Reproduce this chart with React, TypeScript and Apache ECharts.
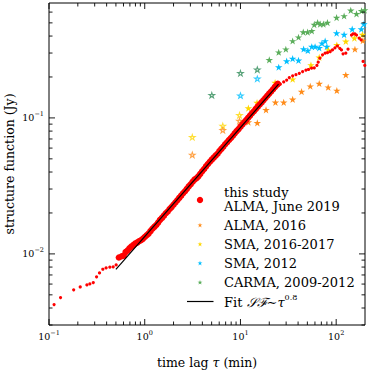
import React, { useEffect, useRef } from "react";
import * as echarts from "echarts";

// ---- this study (ALMA, June 2019): dense, large markers ----
const studyDenseTau = [0.537,0.575,0.603,0.631,0.661,0.692,0.724,0.759,0.794,0.832,0.871,0.912,0.955,
  1.0,1.047,1.096,1.148,1.202,1.259,1.318,1.380,1.445,1.514,1.585,1.660,1.738,1.820,1.905,1.995,
  2.089,2.188,2.291,2.399,2.512,2.630,2.754,2.884,3.020,3.162,3.311,3.467,3.631,3.802,3.981,4.169,4.365,4.571,4.786,5.012,5.248,5.495,5.754,6.026,6.310,6.607,6.918,7.244,7.586,7.943,8.318,8.710,9.120,9.550,
  10.0,10.47,10.96,11.48,12.02,12.59,13.18,13.80,14.45,15.14,15.85,16.60,17.38,18.20,19.05,19.95,20.89,21.88,22.91,23.99,24.55];
const studyDenseSF = [0.0094,0.0096,0.0097,0.0103,0.0106,0.0110,0.0113,0.0116,0.0119,0.0121,0.0124,0.0126,0.0129,
  0.0133,0.0137,0.0141,0.0147,0.0153,0.0158,0.0163,0.0170,0.0178,0.0184,0.0191,0.0199,0.0205,0.0214,0.0221,0.0230,
  0.0239,0.0248,0.0258,0.0268,0.0279,0.0289,0.0301,0.0314,0.0325,0.0339,0.0352,0.0360,0.0372,0.0388,0.0405,0.0421,0.0440,0.0458,0.0476,0.0493,0.0510,0.0528,0.0545,0.0570,0.0592,0.0614,0.0640,0.0662,0.0688,0.0712,0.0740,0.0770,0.0800,0.0828,
  0.0862,0.0895,0.0930,0.0965,0.1002,0.1040,0.1082,0.1120,0.1165,0.1210,0.1255,0.1300,0.1350,0.1400,0.1455,0.1510,0.1565,0.1625,0.1690,0.1750,0.1780];

// ---- this study: sparse, small markers ----
const studySparseTau = [0.113,0.132,0.181,0.212,0.249,0.267,0.290,0.314,0.337,0.365,0.395,0.432,0.468,0.503,
  26.1,28.3,30.4,32.4,35.1,38.0,41.2,44.6,48.3,51.4,55.3,59.0,62.9,64.9,67.6,72.0,76.7,81.1,86.6,91.5,97,103,109,113.5,118,126,133,144.5,150,157,163,174,182,191,199];
const studySparseSF = [0.00424,0.00477,0.00544,0.00571,0.00591,0.00601,0.00615,0.00678,0.00724,0.00771,0.00789,0.00798,0.00802,0.0083,
  0.177,0.184,0.190,0.198,0.204,0.208,0.213,0.219,0.225,0.227,0.232,0.233,0.243,0.257,0.275,0.291,0.299,0.302,0.307,0.316,0.327,0.338,0.325,0.316,0.296,0.299,0.32,0.407,0.415,0.415,0.407,0.386,0.375,0.26,0.243];

// ---- fit SF ~ tau^0.8 (end points) ----
const fitTau = [0.5, 25];
const fitSF = [0.0077, 0.177];

// ---- ALMA, 2016 ----
const alma16OpenTau = [3.14, 6.54, 9.77];
const alma16OpenSF = [0.0535, 0.0813, 0.095];
const alma16Tau = [12.1, 15.0, 18.5, 23.2, 28.3, 35.1, 43.5, 53.6, 66.5, 82.5, 101.6, 126, 157, 190];
const alma16SF = [0.093, 0.092, 0.1145, 0.130, 0.130, 0.137, 0.156, 0.171, 0.179, 0.168, 0.159, 0.207, 0.32, 0.37];

// ---- SMA, 2016-2017 ----
const sma16OpenTau = [3.14, 6.54, 9.77];
const sma16OpenSF = [0.0721, 0.0873, 0.1047];
const sma16Tau = [12.1, 14.9, 23.0, 35.1, 54.5, 66.5, 83, 101.6, 126, 155, 188];
const sma16SF = [0.118, 0.1296, 0.182, 0.1925, 0.245, 0.279, 0.316, 0.344, 0.365, 0.386, 0.41];

// ---- SMA, 2012 ----
const sma12OpenTau = [10.0, 15.0];
const sma12OpenSF = [0.146, 0.194];
const sma12Tau = [25.1, 30.4, 35.1, 40.4, 45.7, 50.6, 55.6, 60.2, 66.5, 71, 76.7, 80, 101, 121, 147, 183, 195];
const sma12SF = [0.236, 0.262, 0.273, 0.265, 0.321, 0.313, 0.334, 0.334, 0.327, 0.354, 0.368, 0.334, 0.42, 0.41, 0.45, 0.45, 0.49];

// ---- CARMA, 2009-2012 ----
const carmaOpenTau = [5.02, 10.0, 15.0];
const carmaOpenSF = [0.147, 0.2133, 0.2265];
const carmaTau = [20, 25.1, 29.8, 35.1, 40.4, 45.3, 50.3, 55.6, 59, 64, 68, 73.5, 81, 101, 121, 142, 163, 184, 198];
const carmaSF = [0.267, 0.304, 0.32, 0.368, 0.392, 0.427, 0.427, 0.436, 0.485, 0.502, 0.49, 0.49, 0.502, 0.546, 0.562, 0.618, 0.582, 0.612, 0.62];

// ---- axes ----
const X_MIN = 0.1, X_MAX = 200, Y_MIN = 0.003, Y_MAX = 0.7;
const xMajorTicks = [0.1, 1, 10, 100];
const xTickExp = ["−1", "0", "1", "2"];
const yMajorTicks = [0.01, 0.1];
const yTickExp = ["−2", "−1"];

const legendLabels = ["this study", "ALMA, June 2019", "ALMA, 2016", "SMA, 2016-2017", "SMA, 2012", "CARMA, 2009-2012"];

const RED = "#ff0000";
const ORANGE = "#ff8c1a";
const YELLOW = "#ffd700";
const BLUE = "#00bfff";
const GREEN = "#5aad5a";
const FONT = "'DejaVu Serif', serif";

const STAR_PTS = [[0,-1],[0.2245,-0.309],[0.951,-0.309],[0.363,0.118],[0.588,0.809],[0,0.382],[-0.588,0.809],[-0.363,0.118],[-0.951,-0.309],[-0.2245,-0.309]];
const STAR = "path://M" + STAR_PTS.map((p) => p[0] + "," + p[1]).join("L") + "Z";

export default function App() {
  const ref = useRef<HTMLDivElement>(null);
  useEffect(() => {
    const el = ref.current!;
    const chart = echarts.init(el, null, { renderer: "svg" });
    const zip = (a: number[], b: number[]) => a.map((v, i) => [v, b[i]]);
    const sc = (name: string, tau: number[], sf: number[], symbol: string, size: number, color: string, hollow: boolean, z: number) => ({
      type: "scatter", name, data: zip(tau, sf), symbol, symbolSize: size, symbolKeepAspect: true, z, silent: true,
      itemStyle: hollow ? { color: "rgba(255,255,255,0)", borderColor: color, borderWidth: 1.1 } : { color, borderWidth: 0, opacity: 1 },
    });
    const hiddenAxis = { axisLine: { show: false }, axisTick: { show: false }, axisLabel: { show: false }, splitLine: { show: false } };
    chart.setOption({
      animation: false,
      grid: { left: 49, top: 3, right: 9, bottom: 49, show: true, borderColor: "#000", borderWidth: 1, containLabel: false, outerBoundsMode: "none" },
      xAxis: { type: "log", logBase: 10, min: X_MIN, max: X_MAX, ...hiddenAxis },
      yAxis: { type: "log", logBase: 10, min: Y_MIN, max: Y_MAX, ...hiddenAxis },
      series: [
        sc("CARMA, 2009-2012 (open)", carmaOpenTau, carmaOpenSF, STAR, 5.5, "#2e8b57", true, 2),
        sc("CARMA, 2009-2012", carmaTau, carmaSF, STAR, 7.5, GREEN, false, 2),
        sc("SMA, 2012 (open)", sma12OpenTau, sma12OpenSF, STAR, 5.5, BLUE, true, 3),
        sc("SMA, 2012", sma12Tau, sma12SF, STAR, 7.5, BLUE, false, 3),
        sc("SMA, 2016-2017 (open)", sma16OpenTau, sma16OpenSF, STAR, 5.5, YELLOW, true, 4),
        sc("SMA, 2016-2017", sma16Tau, sma16SF, STAR, 7.5, YELLOW, false, 4),
        sc("ALMA, 2016 (open)", alma16OpenTau, alma16OpenSF, STAR, 5.5, ORANGE, true, 5),
        sc("ALMA, 2016", alma16Tau, alma16SF, STAR, 7.5, ORANGE, false, 5),
        sc("this study (sparse)", studySparseTau, studySparseSF, "circle", 3.2, RED, false, 6),
        sc("this study", studyDenseTau, studyDenseSF, "circle", 6.5, RED, false, 6),
        { type: "line", name: "Fit", data: zip(fitTau, fitSF), symbol: "none", z: 8, silent: true,
          lineStyle: { color: "#000", width: 1.2 } },
      ],
    });

    const p = (x: number, y: number) => chart.convertToPixel({ gridIndex: 0 }, [x, y]) as number[];
    const [L, B] = p(X_MIN, Y_MIN);
    const [R, T] = p(X_MAX, Y_MAX);
    const g: any[] = [];
    const ln = (x1: number, y1: number, x2: number, y2: number) =>
      g.push({ type: "line", silent: true, z: 20, shape: { x1, y1, x2, y2 }, style: { stroke: "#000", lineWidth: 0.9 } });
    const MAJ = 6, MIN = 3.5;
    const rich = {
      b: { fontSize: 9.5, fontFamily: FONT, verticalAlign: "bottom", lineHeight: 12, fill: "#000" },
      s: { fontSize: 6.5, fontFamily: FONT, verticalAlign: "top", lineHeight: 7, fill: "#000" },
    };
    xMajorTicks.forEach((v, i) => {
      const x = p(v, Y_MIN)[0];
      ln(x, B, x, B - MAJ); ln(x, T, x, T + MAJ);
      g.push({ type: "text", silent: true, x, y: B + 10, style: { text: `{b|10}{s|${xTickExp[i]}}`, rich, align: "center", verticalAlign: "middle" } });
      for (let k = 2; k <= 9; k++) {
        const m = v * k;
        if (m >= X_MAX) break;
        const xm = p(m, Y_MIN)[0];
        ln(xm, B, xm, B - MIN); ln(xm, T, xm, T + MIN);
      }
    });
    [0.001, ...yMajorTicks].forEach((v) => {
      for (let k = 2; k <= 9; k++) {
        const m = v * k;
        if (m < Y_MIN - 1e-9 || m >= Y_MAX - 1e-9) continue;
        const ym = p(X_MIN, m)[1];
        ln(L, ym, L + MIN, ym); ln(R, ym, R - MIN, ym);
      }
    });
    yMajorTicks.forEach((v, i) => {
      const y = p(X_MIN, v)[1];
      ln(L, y, L + MAJ, y); ln(R, y, R - MAJ, y);
      g.push({ type: "text", silent: true, x: L - 5, y: y - 1, style: { text: `{b|10}{s|${yTickExp[i]}}`, rich, align: "right", verticalAlign: "middle" } });
    });

    // axis titles
    g.push({ type: "text", silent: true, x: (L + R) / 2, y: 362, style: {
      text: "{n|time lag }{t|τ}{n| (min)}", align: "center", verticalAlign: "middle",
      rich: { n: { fontSize: 12.5, fontFamily: FONT, fill: "#000" }, t: { fontSize: 12.5, fontFamily: FONT, fontStyle: "italic", fill: "#000" } } } });
    g.push({ type: "text", silent: true, x: 9, y: (T + B) / 2, rotation: Math.PI / 2, style: {
      text: "structure function (Jy)", fontSize: 12.5, fontFamily: FONT, fill: "#000", align: "center", verticalAlign: "middle" } });

    // legend
    const LX = 224, MX = 200;
    const txt = (s: string, y: number) => g.push({ type: "text", silent: true, x: LX, y, z: 30, style: { text: s, fontSize: 13, fontFamily: FONT, fill: "#000", align: "left", verticalAlign: "middle" } });
    const starAt = (cx: number, cy: number, r: number, color: string) =>
      g.push({ type: "polygon", silent: true, z: 30, shape: { points: STAR_PTS.map(([a, b]) => [cx + a * r, cy + b * r]) }, style: { fill: color } });
    txt(legendLabels[0], 192);
    txt(legendLabels[1], 206.5);
    g.push({ type: "circle", silent: true, z: 30, shape: { cx: MX, cy: 200, r: 3.2 }, style: { fill: RED } });
    const rows = [[legendLabels[2], 225.3, ORANGE], [legendLabels[3], 244.3, YELLOW], [legendLabels[4], 263.3, BLUE], [legendLabels[5], 282.5, GREEN]] as [string, number, string][];
    rows.forEach(([s, y, c]) => { txt(s, y); starAt(MX, y, 2.6, c); });
    g.push({ type: "line", silent: true, z: 30, shape: { x1: 187, y1: 301.5, x2: 213.5, y2: 301.5 }, style: { stroke: "#000", lineWidth: 1.2 } });
    g.push({ type: "text", silent: true, x: LX, y: 301, z: 30, style: {
      text: "{n|Fit }{m|𝒮ℱ}{n|∼}{t|τ}{s|0.8}", align: "left", verticalAlign: "middle",
      rich: {
        n: { fontSize: 13, fontFamily: FONT, fill: "#000", verticalAlign: "bottom", lineHeight: 15 },
        m: { fontSize: 13, fontFamily: FONT, fontStyle: "italic", fill: "#000", verticalAlign: "bottom", lineHeight: 15 },
        t: { fontSize: 13, fontFamily: FONT, fontStyle: "italic", fill: "#000", verticalAlign: "bottom", lineHeight: 15 },
        s: { fontSize: 8, fontFamily: FONT, fill: "#000", verticalAlign: "top", lineHeight: 9 },
      } } });

    chart.setOption({ graphic: g });
    return () => chart.dispose();
  }, []);
  return <div ref={ref} style={{ position: "fixed", left: 0, top: 0, width: 374, height: 374, background: "#fff" }} />;
}
